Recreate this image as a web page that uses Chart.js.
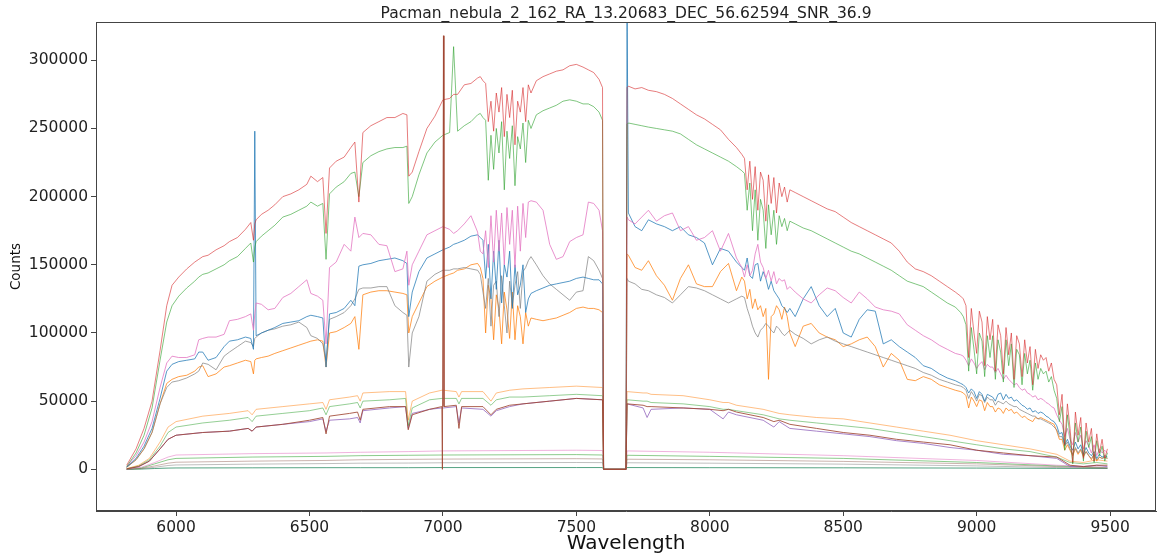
<!DOCTYPE html>
<html>
<head>
<meta charset="utf-8">
<title>Pacman nebula spectrum</title>
<script src="https://cdn.jsdelivr.net/npm/chart.js@4.4.1/dist/chart.umd.min.js"></script>
<style>
  html, body { margin: 0; padding: 0; background: #fff; }
  #spectrum { display: block; }
</style>
</head>
<body>
<canvas id="spectrum" width="1157" height="556"></canvas>
<script>
const chartTitle = 'Pacman_nebula_2_162_RA_13.20683_DEC_56.62594_SNR_36.9';
const xTicks = [6000, 6500, 7000, 7500, 8000, 8500, 9000, 9500];
const yTicks = [0, 50000, 100000, 150000, 200000, 250000, 300000];

// bright fibres, sampled finely (Angstrom); 10 A steps in the telluric bands
const waveFine = [
  5815, 5850, 5880, 5910, 5940, 5965, 5985, 6010, 6040, 6070,
  6085, 6100, 6120, 6150, 6180, 6200, 6230, 6260, 6280, 6290,
  6295, 6300, 6320, 6345, 6370, 6400, 6430, 6460, 6490, 6505,
  6530, 6550, 6562, 6575, 6600, 6630, 6655, 6670, 6685, 6700,
  6730, 6760, 6790, 6820, 6850, 6865, 6872, 6885, 6910, 6940,
  6970, 7000, 7025, 7040, 7055, 7080, 7105, 7130, 7140, 7150,
  7160, 7170, 7180, 7190, 7200, 7210, 7220, 7230, 7240, 7250,
  7260, 7270, 7280, 7290, 7300, 7310, 7320, 7330, 7350, 7375,
  7400, 7425, 7450, 7475, 7500, 7525, 7545, 7565, 7585, 7598,
  7602, 7686, 7690, 7695, 7720, 7745, 7770, 7800, 7830, 7860,
  7890, 7920, 7950, 7980, 8010, 8040, 8070, 8100, 8120, 8130,
  8140, 8150, 8160, 8170, 8180, 8190, 8200, 8210, 8220, 8230,
  8240, 8250, 8260, 8270, 8280, 8290, 8300, 8320, 8350, 8380,
  8410, 8440, 8470, 8500, 8530, 8560, 8590, 8620, 8650, 8680,
  8710, 8740, 8770, 8800, 8830, 8860, 8890, 8920, 8940, 8950,
  8960, 8970, 8980, 8990, 9000, 9010, 9020, 9030, 9040, 9050,
  9060, 9070, 9080, 9090, 9100, 9110, 9120, 9130, 9140, 9150,
  9160, 9170, 9180, 9190, 9200, 9210, 9220, 9230, 9240, 9250,
  9260, 9270, 9280, 9290, 9300, 9310, 9320, 9330, 9340, 9350,
  9360, 9370, 9380, 9390, 9400, 9410, 9420, 9430, 9440, 9450,
  9460, 9470, 9480, 9490
];

const redCounts = [
  3000, 15000, 30000, 50000, 87000, 120000, 135000, 141000, 147000, 152000,
  154000, 156000, 157000, 161000, 164000, 167000, 170000, 176000, 181000, 168000,
  180000, 183000, 187000, 190000, 194000, 200000, 202000, 205000, 209000, 215000,
  211000, 214000, 173000, 221000, 226000, 229000, 236000, 240000, 196000, 247000,
  252000, 255000, 258000, 258000, 261000, 260000, 215000, 218000, 233000, 250000,
  259000, 271000, 272000, 275000, 275000, 282000, 283000, 287000, 288000, 285000,
  283000, 255000, 270000, 248000, 276000, 262000, 280000, 244000, 275000, 258000,
  278000, 238000, 270000, 262000, 280000, 255000, 282000, 276000, 285000, 288000,
  290000, 292000, 293000, 296000, 297000, 295000, 293000, 291000, 286000, 280000,
  0, 0, 280000, 281000, 279000, 280000, 278000, 277000, 275000, 272000,
  268000, 264000, 260000, 257000, 253000, 249000, 242000, 236000, 231000, 228000,
  205000, 226000, 198000, 222000, 190000, 218000, 212000, 182000, 216000, 195000,
  214000, 188000, 210000, 200000, 207000, 196000, 205000, 203000, 200000, 197000,
  194000, 191000, 189000, 185000, 181000, 178000, 175000, 172000, 169000, 166000,
  160000, 152000, 147000, 145000, 142000, 138000, 134000, 130000, 127000, 125000,
  120000, 82000, 118000, 100000, 85000, 116000, 108000, 76000, 112000, 95000,
  110000, 72000, 106000, 98000, 70000, 104000, 84000, 100000, 66000, 98000,
  92000, 68000, 95000, 78000, 90000, 62000, 88000, 74000, 84000, 80000,
  82000, 72000, 78000, 66000, 62000, 40000, 55000, 18000, 48000, 30000,
  5000, 42000, 25000, 38000, 8000, 34000, 20000, 30000, 6000, 26000,
  12000, 22000, 8000, 15000
];

const greenCounts = [
  2000, 12000, 25000, 45000, 80000, 108000, 120000, 127000, 133000, 138000,
  141000, 143000, 144000, 147000, 150000, 153000, 156000, 162000, 166000, 152000,
  163000, 167000, 171000, 175000, 179000, 185000, 187000, 190000, 193000, 196000,
  193000, 195000, 154000, 202000, 207000, 211000, 217000, 218000, 200000, 225000,
  230000, 233000, 235000, 236000, 236000, 237000, 195000, 200000, 216000, 232000,
  240000, 245000, 247000, 310000, 248000, 252000, 255000, 260000, 261000, 258000,
  256000, 212000, 245000, 220000, 250000, 232000, 255000, 205000, 248000, 228000,
  252000, 208000, 244000, 235000, 254000, 225000, 256000, 250000, 260000, 263000,
  265000, 267000, 270000, 271000, 270000, 268000, 268000, 266000, 262000, 256000,
  0, 0, 253000, 254000, 253000, 252000, 251000, 250000, 249000, 248000,
  246000, 242000, 238000, 235000, 232000, 229000, 226000, 222000, 219000, 217000,
  190000, 210000, 175000, 205000, 168000, 198000, 190000, 162000, 194000, 172000,
  190000, 165000, 186000, 178000, 184000, 175000, 182000, 180000, 177000, 175000,
  172000, 169000, 166000, 163000, 160000, 158000, 155000, 152000, 149000, 146000,
  142000, 138000, 136000, 134000, 130000, 126000, 122000, 119000, 115000, 112000,
  106000, 72000, 104000, 88000, 70000, 100000, 94000, 68000, 98000, 82000,
  98000, 66000, 95000, 86000, 64000, 95000, 76000, 92000, 60000, 88000,
  84000, 62000, 85000, 70000, 80000, 58000, 78000, 66000, 74000, 70000,
  72000, 64000, 68000, 58000, 52000, 35000, 46000, 14000, 40000, 24000,
  4000, 34000, 20000, 31000, 6000, 28000, 16000, 24000, 5000, 21000,
  10000, 17000, 6000, 12000
];

const pinkCounts = [
  2000, 10000, 20000, 35000, 60000, 78000, 83000, 82000, 82000, 84000,
  95000, 96000, 97000, 97000, 99000, 109000, 110000, 112000, 114000, 102000,
  114000, 122000, 121000, 117000, 118000, 126000, 129000, 134000, 139000, 129000,
  127000, 124000, 92000, 148000, 152000, 165000, 160000, 185000, 170000, 173000,
  172000, 165000, 164000, 145000, 147000, 160000, 135000, 150000, 160000, 172000,
  175000, 178000, 176000, 173000, 175000, 180000, 186000, 174000, 160000, 158000,
  175000, 148000, 186000, 152000, 190000, 160000, 188000, 150000, 192000, 165000,
  190000, 148000, 193000, 160000, 195000, 170000, 196000, 197000, 196000, 190000,
  165000, 154000, 156000, 167000, 170000, 172000, 196000, 195000, 190000, 175000,
  0, 0, 185000, 183000, 180000, 185000, 190000, 182000, 186000, 188000,
  175000, 178000, 168000, 170000, 175000, 160000, 173000, 155000, 148000, 141000,
  150000, 142000, 146000, 158000, 165000, 152000, 148000, 140000, 146000, 138000,
  145000, 136000, 140000, 138000, 139000, 132000, 134000, 130000, 125000, 122000,
  128000, 133000, 131000, 126000, 122000, 130000, 125000, 119000, 117000, 116000,
  114000, 106000, 102000, 98000, 95000, 91000, 88000, 85000, 84000, 83000,
  80000, 76000, 81000, 78000, 74000, 77000, 79000, 73000, 77000, 75000,
  75000, 71000, 74000, 70000, 66000, 69000, 66000, 64000, 62000, 63000,
  60000, 58000, 59000, 56000, 55000, 53000, 54000, 51000, 52000, 51000,
  49000, 48000, 46000, 45000, 40000, 36000, 33000, 24000, 30000, 22000,
  18000, 27000, 20000, 25000, 15000, 21000, 17000, 12000, 18000, 10000,
  15000, 12000, 14000, 12000
];

const blueCounts = [
  1500, 8000, 17000, 30000, 52000, 72000, 77000, 79000, 80000, 81000,
  86000, 86000, 80000, 82000, 90000, 94000, 95000, 97000, 96000, 88000,
  248000, 98000, 100000, 102000, 104000, 107000, 108000, 109000, 112000, 113000,
  112000, 111000, 75000, 114000, 115000, 118000, 124000, 120000, 149000, 150000,
  151000, 153000, 154000, 155000, 153000, 151000, 112000, 130000, 145000, 155000,
  158000, 161000, 163000, 165000, 166000, 168000, 171000, 172000, 170000, 168000,
  140000, 165000, 125000, 160000, 132000, 168000, 122000, 150000, 141000, 160000,
  118000, 150000, 128000, 135000, 150000, 115000, 125000, 129000, 131000, 133000,
  135000, 136000, 137000, 138000, 140000, 141000, 140000, 139000, 139000, 136000,
  0, 0, 340000, 188000, 178000, 175000, 183000, 180000, 178000, 175000,
  178000, 172000, 170000, 166000, 150000, 162000, 160000, 152000, 148000, 146000,
  155000, 142000, 140000, 150000, 151000, 138000, 145000, 140000, 132000, 138000,
  131000, 128000, 125000, 120000, 118000, 115000, 118000, 112000, 125000, 134000,
  120000, 112000, 118000, 100000, 97000, 110000, 117000, 116000, 92000, 95000,
  90000, 86000, 82000, 76000, 74000, 70000, 67000, 65000, 63000, 62000,
  60000, 56000, 59000, 57000, 52000, 57000, 55000, 50000, 55000, 54000,
  53000, 50000, 55000, 56000, 51000, 55000, 52000, 53000, 50000, 51000,
  49000, 47000, 46000, 44000, 45000, 42000, 43000, 41000, 42000, 41000,
  39000, 38000, 36000, 35000, 32000, 26000, 27000, 18000, 22000, 17000,
  14000, 20000, 15000, 18000, 11000, 16000, 12000, 10000, 13000, 8000,
  11000, 9000, 10000, 9000
];

const grayCounts = [
  1500, 7000, 15000, 27000, 48000, 60000, 64000, 65000, 67000, 70000,
  72000, 78000, 77000, 73000, 83000, 86000, 90000, 94000, 93000, 90000,
  96000, 97000, 100000, 102000, 103000, 105000, 106000, 108000, 104000, 98000,
  96000, 92000, 80000, 110000, 112000, 115000, 120000, 125000, 132000, 133000,
  133000, 134000, 134000, 120000, 115000, 113000, 75000, 100000, 112000, 138000,
  143000, 146000, 146000, 147000, 147000, 148000, 147000, 146000, 143000, 130000,
  118000, 140000, 105000, 135000, 138000, 112000, 142000, 120000, 100000, 138000,
  120000, 135000, 145000, 118000, 145000, 148000, 153000, 156000, 150000, 142000,
  136000, 132000, 128000, 124000, 130000, 131000, 156000, 153000, 146000, 140000,
  0, 0, 140000, 138000, 136000, 132000, 131000, 128000, 126000, 122000,
  128000, 134000, 133000, 131000, 128000, 125000, 122000, 125000, 127000, 126000,
  118000, 112000, 105000, 100000, 97000, 102000, 104000, 107000, 105000, 102000,
  100000, 105000, 103000, 100000, 98000, 100000, 102000, 99000, 96000, 92000,
  95000, 97000, 94000, 92000, 90000, 88000, 86000, 84000, 82000, 80000,
  78000, 76000, 74000, 71000, 69000, 66000, 64000, 62000, 61000, 60000,
  58000, 52000, 57000, 54000, 50000, 55000, 54000, 49000, 53000, 51000,
  51000, 47000, 50000, 49000, 48000, 50000, 48000, 47000, 46000, 46000,
  44000, 43000, 42000, 41000, 40000, 39000, 39000, 37000, 37000, 36000,
  35000, 34000, 33000, 31000, 29000, 24000, 24000, 17000, 20000, 15000,
  11000, 16000, 12000, 15000, 10000, 13000, 10000, 8000, 11000, 7000,
  9000, 8000, 9000, 8000
];

const orangeCounts = [
  1500, 7000, 15000, 27000, 48000, 63000, 66000, 68000, 69000, 72000,
  75000, 76000, 68000, 70000, 75000, 76000, 78000, 80000, 79000, 70000,
  80000, 81000, 82000, 83000, 85000, 87000, 89000, 91000, 93000, 94000,
  95000, 94000, 75000, 100000, 101000, 104000, 107000, 112000, 88000, 128000,
  130000, 131000, 131000, 130000, 129000, 128000, 100000, 112000, 122000, 134000,
  138000, 141000, 143000, 144000, 146000, 147000, 150000, 151000, 148000, 140000,
  100000, 135000, 125000, 95000, 128000, 118000, 92000, 130000, 117000, 96000,
  130000, 95000, 120000, 112000, 92000, 115000, 105000, 111000, 110000, 109000,
  110000, 111000, 113000, 115000, 118000, 119000, 118000, 118000, 117000, 115000,
  0, 0, 158000, 157000, 148000, 146000, 153000, 142000, 135000, 124000,
  140000, 150000, 136000, 134000, 134000, 145000, 151000, 131000, 141000, 138000,
  125000, 132000, 118000, 125000, 117000, 120000, 112000, 118000, 66000, 112000,
  114000, 120000, 117000, 110000, 119000, 112000, 100000, 90000, 105000, 107000,
  100000, 97000, 95000, 90000, 92000, 95000, 97000, 90000, 75000, 85000,
  80000, 66000, 65000, 68000, 66000, 62000, 60000, 58000, 57000, 56000,
  54000, 45000, 53000, 50000, 46000, 51000, 50000, 43000, 49000, 46000,
  46000, 42000, 45000, 44000, 41000, 45000, 43000, 44000, 41000, 42000,
  40000, 38000, 39000, 37000, 36000, 35000, 38000, 37000, 38000, 37000,
  36000, 35000, 34000, 33000, 28000, 22000, 22000, 14000, 18000, 14000,
  10000, 15000, 11000, 14000, 9000, 13000, 10000, 7000, 11000, 6000,
  9000, 8000, 9000, 8000
];

// medium fibres, sampled more coarsely
const waveMid = [
  5815, 5860, 5900, 5940, 5970, 6000, 6100, 6200, 6270, 6285,
  6300, 6400, 6500, 6550, 6562, 6575, 6650, 6680, 6690, 6700,
  6800, 6860, 6870, 6885, 6950, 6996, 6998, 7002, 7004, 7050,
  7060, 7070, 7150, 7180, 7200, 7250, 7300, 7400, 7500, 7598,
  7602, 7686, 7690, 7750, 7765, 7780, 7900, 8000, 8050, 8070,
  8100, 8200, 8240, 8260, 8300, 8400, 8500, 8600, 8700, 8800,
  8900, 9000, 9100, 9200, 9300, 9350, 9400, 9450, 9490
];

const orangeMid = [
  500, 3000, 8000, 20000, 31000, 35000, 39000, 41000, 43000, 40000,
  44000, 46000, 48000, 49000, 44000, 51000, 53000, 54000, 50000, 56000,
  57000, 57000, 36000, 50000, 56000, 58000, 58000, 58000, 58000, 57000,
  53000, 57000, 57000, 50000, 56000, 58000, 59000, 60000, 61000, 60000,
  0, 0, 57000, 56000, 56000, 55000, 54000, 51000, 49000, 49000,
  47000, 44000, 42000, 41000, 40000, 38000, 37000, 34000, 31000, 28000,
  25000, 21000, 18000, 15000, 11000, 6000, 5000, 7000, 6000
];

const greenMid = [
  400, 2500, 7000, 17000, 27000, 31000, 34000, 36000, 38000, 35000,
  39000, 41000, 43000, 45000, 40000, 46000, 48000, 49000, 45000, 50000,
  51000, 52000, 32000, 45000, 51000, 52000, 52000, 52000, 52000, 52000,
  48000, 52000, 52000, 47000, 51000, 53000, 53000, 54000, 55000, 54000,
  0, 0, 51000, 50000, 50000, 49000, 48000, 46000, 44000, 44000,
  43000, 40000, 38000, 37000, 36000, 34000, 32000, 30000, 27000, 24000,
  21000, 18000, 15000, 13000, 9000, 5000, 4000, 5000, 4000
];

const brownMid = [
  300, 2000, 6000, 15000, 22000, 25000, 27000, 28000, 30000, 28000,
  31000, 33000, 36000, 38000, 26000, 39000, 41000, 42000, 36000, 44000,
  46000, 46000, 29000, 40000, 44000, 46000, 0, 318000, 46000, 47000,
  30000, 46000, 46000, 40000, 44000, 47000, 48000, 50000, 52000, 51000,
  0, 0, 48000, 47000, 46000, 46000, 45000, 44000, 43000, 44000,
  42000, 38000, 35000, 36000, 33000, 30000, 27000, 25000, 22000, 20000,
  18000, 14000, 12000, 10000, 9000, 3000, 2000, 3000, 3000
];

const purpleMid = [
  300, 2000, 6000, 15000, 22000, 25000, 27000, 28000, 30000, 28000,
  31000, 33000, 35000, 37000, 28000, 36000, 37000, 38000, 34000, 43000,
  45000, 46000, 30000, 41000, 44000, 45000, 45000, 45000, 45000, 46000,
  34000, 45000, 44000, 39000, 43000, 46000, 48000, 50000, 52000, 51000,
  0, 0, 48000, 45000, 38000, 44000, 45000, 44000, 37000, 42000,
  40000, 36000, 31000, 35000, 30000, 28000, 26000, 24000, 21000, 19000,
  16000, 14000, 11000, 10000, 8000, 2000, 2000, 3000, 2000
];

// faint fibres near zero
const waveLow = [5815, 5870, 5920, 5970, 6000, 6285, 6562, 6690, 6870, 7000,
  7500, 7598, 7602, 7686, 7690, 8000, 8500, 9000, 9300, 9490];
const pinkLow = [100, 1500, 5000, 9000, 10500, 11500, 12000, 12500, 13000, 13500,
  14000, 13800, 0, 0, 13500, 12500, 10000, 6500, 3000, 1500];
const greenLow = [100, 1000, 4000, 7000, 8000, 9000, 9500, 10000, 10300, 10500,
  10800, 10500, 0, 0, 10300, 9500, 8000, 5000, 2500, 1200];
const brownLow = [50, 700, 2500, 4500, 5200, 6000, 6500, 7000, 7300, 7500,
  7800, 7600, 0, 0, 7400, 7000, 5800, 4000, 2000, 1000];
const grayLow = [50, 400, 1500, 2800, 3200, 3800, 4200, 4500, 4600, 4800,
  5000, 4900, 0, 0, 4800, 4500, 3800, 2500, 1300, 700];
const tealLow = [0, 200, 600, 900, 1000, 1100, 1200, 1200, 1200, 1300,
  1300, 1300, 0, 0, 1300, 1200, 1100, 900, 700, 600];

const series = [
  { waves: waveMid, counts: brownMid, color: 'rgba(160, 70, 50, 0.85)' },
  { waves: waveFine, counts: redCounts, color: 'rgba(214, 39, 40, 0.6)' },
  { waves: waveFine, counts: greenCounts, color: 'rgba(44, 160, 44, 0.6)' },
  { waves: waveFine, counts: pinkCounts, color: 'rgba(227, 119, 194, 0.8)' },
  { waves: waveFine, counts: blueCounts, color: 'rgba(31, 119, 180, 0.75)' },
  { waves: waveFine, counts: grayCounts, color: 'rgba(127, 127, 127, 0.7)' },
  { waves: waveFine, counts: orangeCounts, color: 'rgba(255, 127, 14, 0.75)' },
  { waves: waveMid, counts: orangeMid, color: 'rgba(255, 127, 14, 0.5)' },
  { waves: waveMid, counts: greenMid, color: 'rgba(44, 160, 44, 0.5)' },
  { waves: waveMid, counts: purpleMid, color: 'rgba(148, 103, 189, 0.8)' },
  { waves: waveLow, counts: pinkLow, color: 'rgba(227, 119, 194, 0.55)' },
  { waves: waveLow, counts: greenLow, color: 'rgba(44, 160, 44, 0.55)' },
  { waves: waveLow, counts: brownLow, color: 'rgba(140, 86, 75, 0.45)' },
  { waves: waveLow, counts: grayLow, color: 'rgba(127, 127, 127, 0.5)' },
  { waves: waveLow, counts: tealLow, color: 'rgba(44, 140, 100, 0.8)' }
];

function toPoints(waves, counts) {
  return waves.map((w, i) => ({ x: w, y: counts[i] }));
}

// matplotlib-like box round the axes, plus the title centred over the plot
const frameAndTitle = {
  id: 'frameAndTitle',
  afterDraw(chart) {
    const { ctx, chartArea: a } = chart;
    ctx.save();
    ctx.strokeStyle = '#444';
    ctx.lineWidth = 1;
    ctx.strokeRect(a.left + 0.5, a.top + 0.5, a.right - a.left - 1, a.bottom - a.top - 1);
    ctx.fillStyle = '#222';
    ctx.font = '15.5px "DejaVu Sans"';
    ctx.textAlign = 'center';
    ctx.textBaseline = 'alphabetic';
    ctx.fillText(chartTitle, (a.left + a.right) / 2, 18);
    ctx.restore();
  }
};

const tickFont = { family: 'DejaVu Sans', size: 15.5 };

new Chart(document.getElementById('spectrum'), {
  type: 'line',
  data: {
    datasets: series.map(s => ({
      data: toPoints(s.waves, s.counts),
      borderColor: s.color,
      borderWidth: 1,
      pointRadius: 0,
      tension: 0,
      fill: false
    }))
  },
  options: {
    responsive: false,
    animation: false,
    layout: { padding: { top: 22, right: 1, left: 0, bottom: 0 } },
    plugins: {
      legend: { display: false },
      tooltip: { enabled: false }
    },
    scales: {
      x: {
        type: 'linear',
        min: 5700,
        max: 9672,
        afterBuildTicks: s => { s.ticks = xTicks.map(v => ({ value: v })); },
        afterFit: s => { s.height = 45; },
        grid: { drawOnChartArea: false, tickLength: 5, color: '#444' },
        border: { color: '#444' },
        ticks: { color: '#222', font: tickFont, padding: 3, maxRotation: 0, autoSkip: false, callback: v => String(v) },
        title: { display: true, text: 'Wavelength', color: '#111', font: { family: 'DejaVu Sans', size: 20 }, padding: 0 }
      },
      y: {
        type: 'linear',
        min: -30570,
        max: 328080,
        afterBuildTicks: s => { s.ticks = yTicks.map(v => ({ value: v })); },
        afterFit: s => { s.width = 96; },
        grid: { drawOnChartArea: false, tickLength: 5, color: '#444' },
        border: { color: '#444' },
        ticks: { color: '#222', font: tickFont, padding: 3, callback: v => String(v) },
        title: { display: true, text: 'Counts', color: '#111', font: { family: 'DejaVu Sans', size: 13.5 }, padding: { top: 8, bottom: 0 } }
      }
    }
  },
  plugins: [frameAndTitle]
});
</script>
</body>
</html>
